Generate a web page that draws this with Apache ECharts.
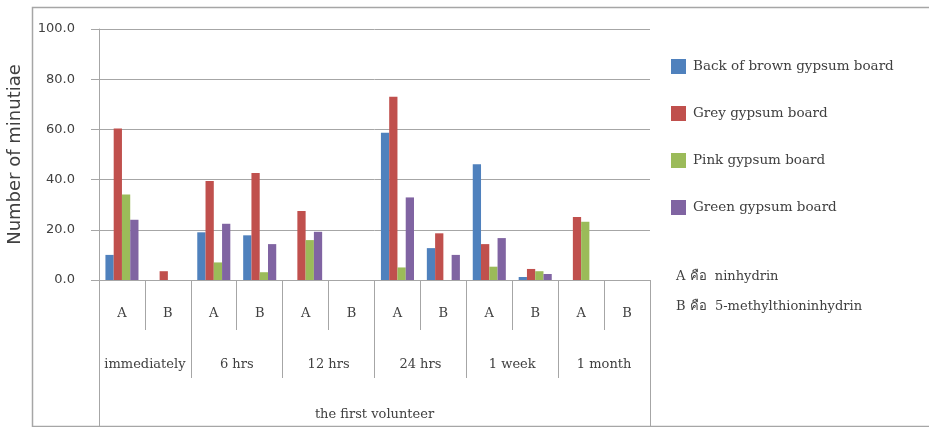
<!DOCTYPE html>
<html>
<head>
<meta charset="utf-8">
<script src="https://cdn.jsdelivr.net/npm/echarts@6/dist/echarts.min.js"></script>
<style>html,body{margin:0;padding:0;background:#fff}#c{width:929px;height:427px}</style>
</head>
<body>
<div id="c"></div>
<script>
// ---- data ----
const subCategories = ['A','B','A','B','A','B','A','B','A','B','A','B'];
const groups = ['immediately','6 hrs','12 hrs','24 hrs','1 week','1 month'];
const topGroup = ['the first volunteer'];
const seriesNames = ['Back of brown gypsum board','Grey gypsum board','Pink gypsum board','Green gypsum board'];
const backBrown = [10.0, 0, 19.0, 17.8, 0, 0, 58.7, 12.7, 46.1, 1.2, 0, 0];
const grey      = [60.4, 3.5, 39.4, 42.6, 27.5, 0, 73.0, 18.6, 14.3, 4.4, 25.1, 0];
const pink      = [34.1, 0, 7.0, 3.1, 15.9, 0, 5.0, 0, 5.3, 3.5, 23.2, 0];
const green     = [24.0, 0, 22.4, 14.3, 19.2, 0, 32.9, 10.0, 16.7, 2.4, 0, 0];
const yTicks = [0, 20, 40, 60, 80, 100];
const notes = ['A คือ  ninhydrin', 'B คือ  5-methylthioninhydrin'];

const colors = ['#4f81bd','#c0504d','#9bbb59','#8064a2'];
const gray = '#a6a6a6';
const txt = '#404040';
const serif = "'DejaVu Serif', serif";

const chart = echarts.init(document.getElementById('c'), null, {renderer:'canvas'});
const values = [backBrown, grey, pink, green];

chart.setOption({
  animation: false,
  backgroundColor: '#fff',
  grid: {left: 99, right: 279, top: 29, bottom: 147, containLabel: false, outerBoundsMode: 'none'},
  legend: {
    orient: 'vertical', left: 671, top: 54, padding: [5, 0, 0, 0],
    itemWidth: 15, itemHeight: 15, itemGap: 32, icon: 'rect',
    textStyle: {fontFamily: serif, fontSize: 13.5, color: txt, padding: [0, 0, 0, 2]},
    data: seriesNames
  },
  xAxis: [
    {type: 'category', data: subCategories, position: 'bottom',
     axisLine: {show: true, lineStyle: {color: gray}},
     axisTick: {show: true, interval: 0, length: 50, lineStyle: {color: gray}},
     axisLabel: {interval: 0, margin: 27, fontFamily: serif, fontSize: 13, color: txt}},
    {type: 'category', data: groups, position: 'bottom',
     axisLine: {show: true, lineStyle: {color: gray}},
     axisTick: {show: true, interval: 0, length: 98, lineStyle: {color: gray}},
     axisLabel: {interval: 0, margin: 78, fontFamily: serif, fontSize: 13, color: txt}},
    {type: 'category', data: topGroup, position: 'bottom',
     axisLine: {show: true, lineStyle: {color: gray}},
     axisTick: {show: true, interval: 0, length: 147, lineStyle: {color: gray}},
     axisLabel: {interval: 0, margin: 128, fontFamily: serif, fontSize: 13, color: txt}}
  ],
  yAxis: {
    type: 'value', min: yTicks[0], max: yTicks[yTicks.length-1], interval: 20,
    name: 'Number of minutiae', nameLocation: 'middle', nameGap: 75, nameRotate: 90,
    nameTextStyle: {fontFamily: "'DejaVu Sans', sans-serif", fontSize: 18, color: txt},
    axisLine: {show: true, lineStyle: {color: gray}},
    axisTick: {show: true, length: 8, lineStyle: {color: gray}},
    splitLine: {show: true, lineStyle: {color: gray}},
    axisLabel: {margin: 24, fontFamily: "'DejaVu Sans', sans-serif", fontSize: 13, color: txt,
      formatter: v => v.toFixed(1)}
  },
  series: seriesNames.map((n, i) => ({
    name: n, type: 'bar', xAxisIndex: 0, data: values[i],
    barGap: '0%', barCategoryGap: '28%',
    itemStyle: {color: colors[i]}
  })),
  graphic: [
    {type: 'rect', silent: true, z: -1,
     shape: {x: 32.5, y: 7.5, width: 1000, height: 419},
     style: {fill: null, stroke: gray, lineWidth: 1.5}},
    {type: 'text', left: 676, top: 270,
     style: {text: notes[0], fontFamily: serif, fontSize: 13, fill: txt}},
    {type: 'text', left: 676, top: 300,
     style: {text: notes[1], fontFamily: serif, fontSize: 13, fill: txt}}
  ]
});
</script>
</body>
</html>
